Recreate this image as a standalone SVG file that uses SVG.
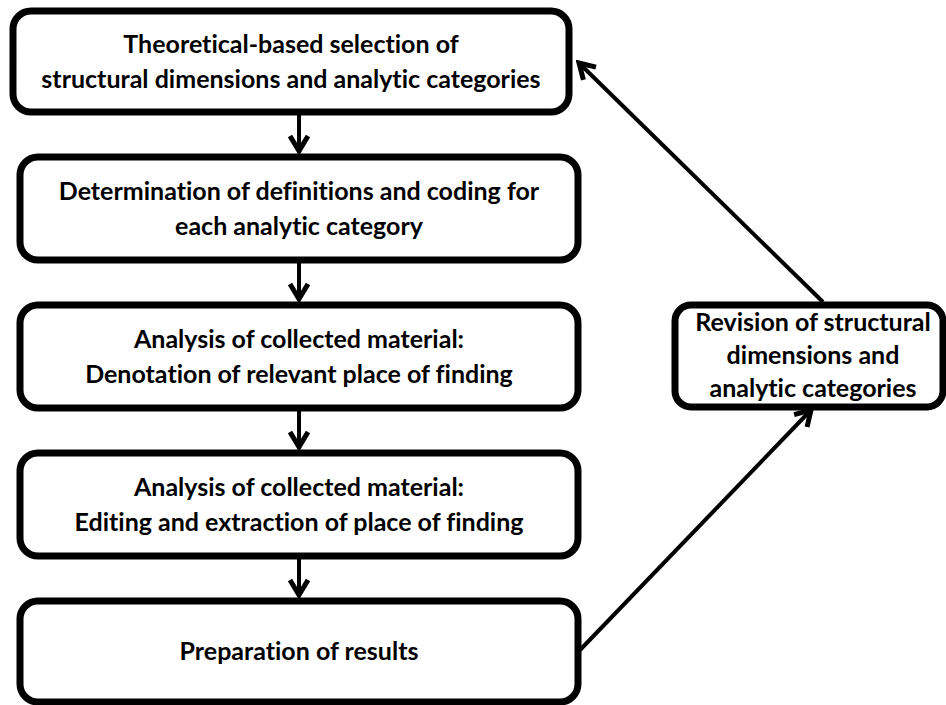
<svg xmlns="http://www.w3.org/2000/svg" width="946" height="705" viewBox="0 0 946 705">
<defs>
<style>
.box{fill:#fff;stroke:#000;stroke-width:7}
.t{font-family:Lato,"Liberation Sans",sans-serif;font-weight:bold;font-size:25px;fill:#000;text-anchor:middle;font-variant-ligatures:none;font-feature-settings:"liga" 0}
.c{stroke:#000;stroke-width:4;fill:none}
</style>
<marker id="ah" markerUnits="userSpaceOnUse" viewBox="-20 -12 24 24" refX="0" refY="0" markerWidth="24" markerHeight="24" orient="auto">
<path d="M-15,-9 L0,0 L-15,9" fill="none" stroke="#000" stroke-width="5"/>
</marker>
</defs>
<rect width="946" height="705" fill="#fff"/>
<g id="connectors">
<line class="c" x1="299" y1="115" x2="299" y2="151" marker-end="url(#ah)"/>
<line class="c" x1="299" y1="263" x2="299" y2="299" marker-end="url(#ah)"/>
<line class="c" x1="299" y1="411" x2="299" y2="447" marker-end="url(#ah)"/>
<line class="c" x1="299" y1="559" x2="299" y2="595" marker-end="url(#ah)"/>
<line class="c" x1="823" y1="302" x2="579" y2="63" marker-end="url(#ah)"/>
<line class="c" x1="580" y1="650" x2="811" y2="410" marker-end="url(#ah)"/>
</g>
<g id="n1">
<rect class="box" x="13" y="11" width="556" height="101" rx="18"/>
<text class="t" x="291" y="53">Theoretical-based selection of</text>
<text class="t" x="291" y="88">structural dimensions and analytic categories</text>
</g>
<g id="n2">
<rect class="box" x="20" y="157" width="558" height="103" rx="18"/>
<text class="t" x="299" y="200">Determination of definitions and coding for</text>
<text class="t" x="299" y="235">each analytic category</text>
</g>
<g id="n3">
<rect class="box" x="20" y="305" width="558" height="103" rx="18"/>
<text class="t" x="299" y="348">Analysis of collected material:</text>
<text class="t" x="299" y="383">Denotation of relevant place of finding</text>
</g>
<g id="n4">
<rect class="box" x="20" y="453" width="558" height="103" rx="18"/>
<text class="t" x="299" y="496">Analysis of collected material:</text>
<text class="t" x="299" y="531">Editing and extraction of place of finding</text>
</g>
<g id="n5">
<rect class="box" x="20" y="601" width="558" height="101" rx="18"/>
<text class="t" x="299" y="660">Preparation of results</text>
</g>
<g id="n6">
<rect class="box" x="675" y="305" width="268" height="102" rx="16"/>
<text class="t" x="813" y="331">Revision of structural</text>
<text class="t" x="813" y="364">dimensions and</text>
<text class="t" x="813" y="397">analytic categories</text>
</g>
</svg>
